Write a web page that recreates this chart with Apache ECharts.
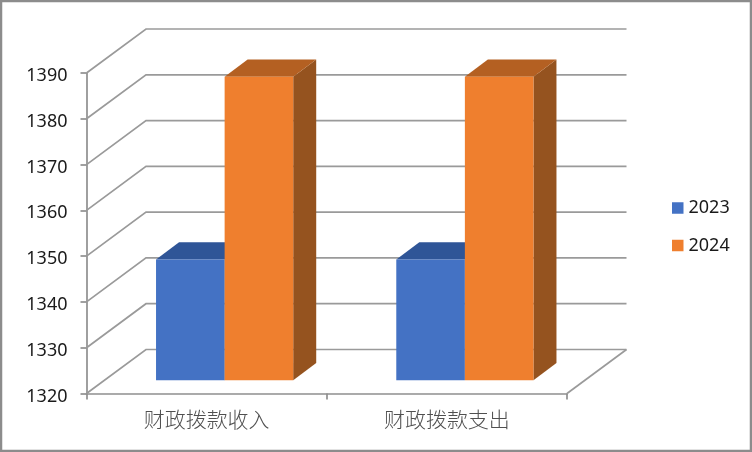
<!DOCTYPE html>
<html><head><meta charset="utf-8">
<style>html,body{margin:0;padding:0;background:#fff}#c{width:752px;height:452px}</style>
<script src="https://cdn.jsdelivr.net/npm/echarts@6/dist/echarts.min.js"></script>
</head><body><div id="c"></div>
<script>
const categories = ['财政拨款收入', '财政拨款支出'];
const seriesNames = ['2023', '2024'];
const values2023 = [1346.4, 1346.4];
const values2024 = [1386.3, 1386.3];
const yTicks = [1320, 1330, 1340, 1350, 1360, 1370, 1380, 1390];

const WALL = [59.5, -44], PLANE = [18, -13.2], DEPTH = [23, -17.3];
const GRID_COLOR = '#9a9a9a', AXIS_COLOR = '#8f8f8f';
const looks = [
  {front: '#4472c4', top: '#2f5597', side: '#2f5597'},
  {front: '#ef7f2e', top: '#b46022', side: '#95531f'}
];

function wallItem(params, api) {
  const tick = api.value(0);
  const a = api.coord([0, tick]);
  const b = api.coord([categories.length - 1, tick]);
  const band = api.size([1, 0])[0];
  const x0 = a[0] - band / 2, x1 = b[0] + band / 2, y = a[1];
  const style = {stroke: GRID_COLOR, lineWidth: 1.7, fill: null};
  const children = [{type: 'polyline', style, shape: {points: [
    [x0, y], [x0 + WALL[0], y + WALL[1]], [x1 + WALL[0], y + WALL[1]]
  ]}}];
  if (tick === yTicks[0]) {
    children.push({type: 'line', style, shape: {
      x1: x1, y1: y, x2: x1 + WALL[0], y2: y + WALL[1]
    }});
  }
  return {type: 'group', children};
}

function barItem(seriesIdx) {
  return function (params, api) {
    const cat = api.value(0), val = api.value(1);
    const top = api.coord([cat, val]), base = api.coord([cat, yTicks[0]]);
    const w = api.size([1, 0])[0] * 0.2855;
    const x0 = top[0] + PLANE[0] - w + seriesIdx * w, x1 = x0 + w;
    const yt = top[1] + PLANE[1], yb = base[1] + PLANE[1];
    const dx = DEPTH[0], dy = DEPTH[1], c = looks[seriesIdx];
    return {type: 'group', children: [
      {type: 'polygon', shape: {points: [[x1, yt], [x1 + dx, yt + dy], [x1 + dx, yb + dy], [x1, yb]]},
       style: {fill: c.side}},
      {type: 'polygon', shape: {points: [[x0, yt], [x0 + dx, yt + dy], [x1 + dx, yt + dy], [x1, yt]]},
       style: {fill: c.top}},
      {type: 'rect', shape: {x: x0, y: yt, width: w, height: yb - yt},
       style: {fill: c.front}}
    ]};
  };
}

const chart = echarts.init(document.getElementById('c'), null, {renderer: 'canvas'});
chart.setOption({
  animation: false,
  backgroundColor: '#fff',
  grid: {left: 86.5, right: 185, top: 73, bottom: 58.5},
  graphic: [{type: 'rect', silent: true, z: 100,
    shape: {x: 1, y: 1, width: 750, height: 450},
    style: {fill: null, stroke: '#8c8c8c', lineWidth: 2.5}}],
  legend: {
    orient: 'vertical', left: 667, top: 194, itemWidth: 11.5, itemHeight: 11.5, itemGap: 19.5,
    icon: 'rect', data: seriesNames.map((n, i) => ({name: n, itemStyle: {color: looks[i].front}})),
    textStyle: {fontFamily: 'Noto Sans', fontSize: 18, color: '#1a1a1a'}
  },
  xAxis: {
    type: 'category', data: categories, boundaryGap: true,
    axisLine: {lineStyle: {color: AXIS_COLOR, width: 1.7}},
    axisTick: {show: true, length: 6, lineStyle: {color: AXIS_COLOR, width: 1.7}},
    axisLabel: {fontFamily: 'Noto Sans CJK SC', fontSize: 21, fontWeight: 300, color: '#505050', margin: 15}
  },
  yAxis: {
    type: 'value', min: 1320, max: 1390, interval: 10,
    splitLine: {show: false},
    axisLine: {show: true, lineStyle: {color: AXIS_COLOR, width: 1.7}},
    axisTick: {show: true, length: 6, lineStyle: {color: AXIS_COLOR, width: 1.7}},
    axisLabel: {fontFamily: 'Noto Sans', fontSize: 18, color: '#1a1a1a', margin: 19,
      formatter: v => String(v), verticalAlign: 'top', lineHeight: 6}
  },
  series: [
    {type: 'custom', name: 'walls', silent: true, renderItem: wallItem,
     data: yTicks.map(t => [t]), encode: {y: 0}, z: 1},
    {type: 'custom', name: seriesNames[0], renderItem: barItem(0),
     data: values2023.map((v, i) => [i, v]), encode: {x: 0, y: 1}, z: 2,
     itemStyle: {color: looks[0].front}},
    {type: 'custom', name: seriesNames[1], renderItem: barItem(1),
     data: values2024.map((v, i) => [i, v]), encode: {x: 0, y: 1}, z: 3,
     itemStyle: {color: looks[1].front}}
  ]
});
</script></body></html>
